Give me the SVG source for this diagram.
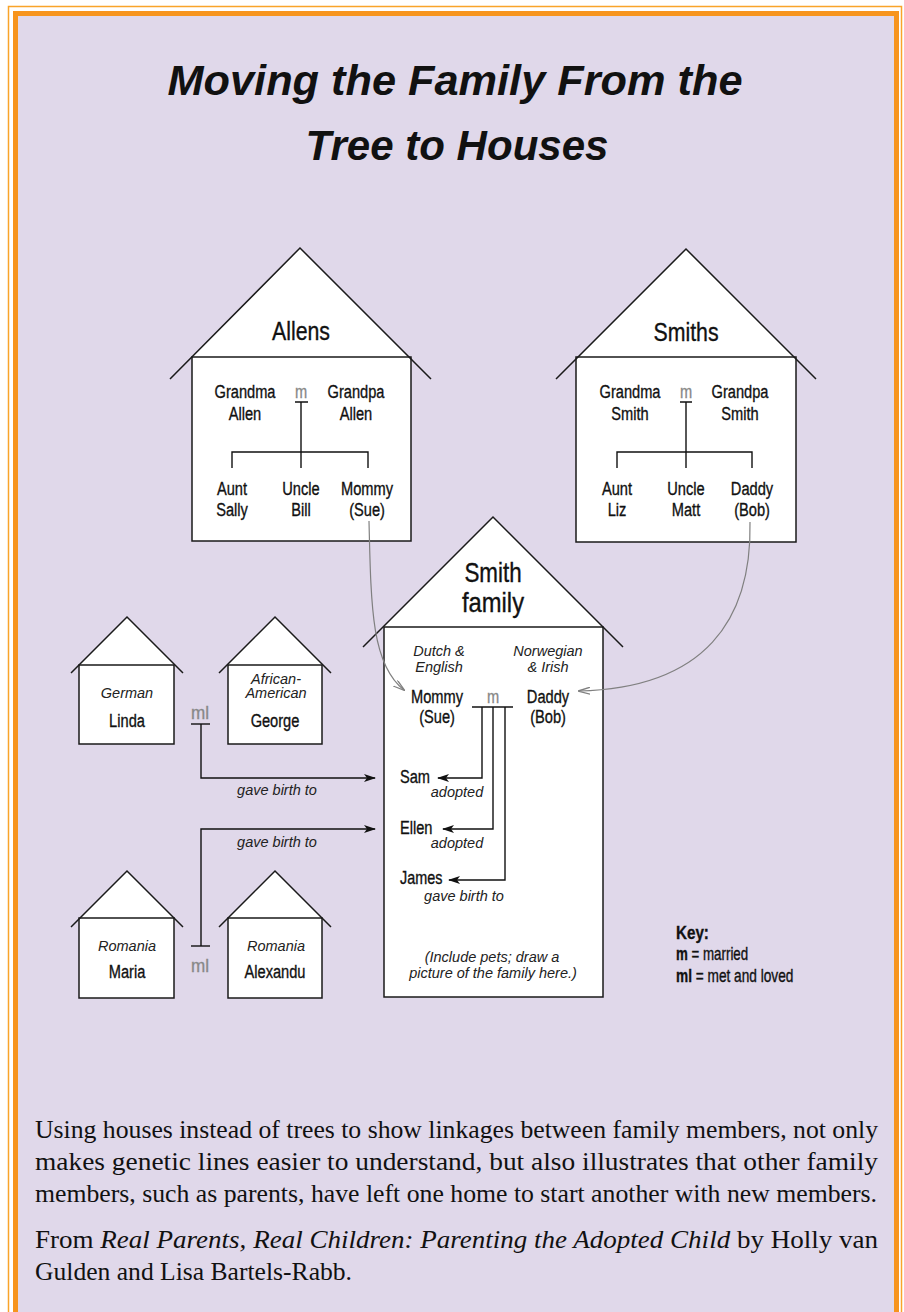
<svg xmlns="http://www.w3.org/2000/svg" width="904" height="1312" viewBox="0 0 904 1312">
<defs>
<style>
.hs{fill:#fff;stroke:#1a1a1a;stroke-width:1.5}
.rf{fill:#fff;stroke:none}
.rl{fill:none;stroke:#1a1a1a;stroke-width:1.5}
.ln{fill:none;stroke:#111;stroke-width:1.4}
.gl{fill:none;stroke:#808080;stroke-width:1.2}
.c{font-family:'Liberation Sans',Arial,sans-serif;fill:#111;stroke:#111;stroke-width:0.35;text-anchor:middle;font-size:19px}
.cl{font-family:'Liberation Sans',Arial,sans-serif;fill:#111;stroke:#111;stroke-width:0.35;font-size:19px}
.gm{fill:#888;stroke:#888}
.it{font-family:'Liberation Sans',Arial,sans-serif;font-style:italic;font-size:14.5px;fill:#222;text-anchor:middle}
.sr{font-family:'Liberation Serif','Times New Roman',serif;font-size:25px;fill:#111}
</style>
<marker id="ab" viewBox="0 0 12 8" refX="11" refY="4" markerWidth="12" markerHeight="8" markerUnits="userSpaceOnUse" orient="auto">
<path d="M0,0 L12,4 L0,8 L3,4 Z" fill="#111"/>
</marker>
<marker id="ag" viewBox="0 0 12 8" refX="11" refY="4" markerWidth="12" markerHeight="8" markerUnits="userSpaceOnUse" orient="auto">
<path d="M0,0.5 L12,4 L0,7.5" fill="none" stroke="#808080" stroke-width="1.3"/>
</marker>
</defs>
<rect x="0" y="0" width="904" height="1312" fill="#fff"/>
<rect x="8.5" y="6.5" width="893" height="1330" fill="none" stroke="#F9A42A" stroke-width="1.5"/>
<rect x="15.5" y="13.5" width="881" height="1330" fill="#E0D8EA" stroke="#F7941D" stroke-width="5"/>
<g id="title">
<text x="455" y="95" text-anchor="middle" textLength="575" lengthAdjust="spacingAndGlyphs" style="font-family:'Liberation Sans',sans-serif;font-weight:bold;font-style:italic;font-size:42px;fill:#111">Moving the Family From the</text>
<text x="457" y="160" text-anchor="middle" textLength="303" lengthAdjust="spacingAndGlyphs" style="font-family:'Liberation Sans',sans-serif;font-weight:bold;font-style:italic;font-size:42px;fill:#111">Tree to Houses</text>
</g>
<g id="allens">
<polygon class="rf" points="300,248 191,357 409,357"/>
<rect class="hs" x="192" y="357" width="219" height="184"/>
<polyline class="rl" points="170,379 300,248 431,379"/>
<text class="c" style="font-size:26px" transform="translate(301,340) scale(.82,1)">Allens</text>
<text class="c" transform="translate(245,398) scale(.77,1)">Grandma</text>
<text class="c" transform="translate(245,420) scale(.77,1)">Allen</text>
<text class="c gm" transform="translate(301,398) scale(.77,1)">m</text>
<text class="c" transform="translate(356,398) scale(.77,1)">Grandpa</text>
<text class="c" transform="translate(356,420) scale(.77,1)">Allen</text>
<path class="ln" d="M295,402 H308 M301,402 V468 M232,468 V452 H368 V468"/>
<text class="c" transform="translate(232,495) scale(.77,1)">Aunt</text>
<text class="c" transform="translate(232,516) scale(.77,1)">Sally</text>
<text class="c" transform="translate(301,495) scale(.77,1)">Uncle</text>
<text class="c" transform="translate(301,516) scale(.77,1)">Bill</text>
<text class="c" transform="translate(367,495) scale(.77,1)">Mommy</text>
<text class="c" transform="translate(367,516) scale(.77,1)">(Sue)</text>
</g>
<g id="smiths">
<polygon class="rf" points="686,249 578,357 794,357"/>
<rect class="hs" x="576" y="357" width="220" height="185"/>
<polyline class="rl" points="556,379 686,249 816,379"/>
<text class="c" style="font-size:26px" transform="translate(686,341) scale(.82,1)">Smiths</text>
<text class="c" transform="translate(630,398) scale(.77,1)">Grandma</text>
<text class="c" transform="translate(630,420) scale(.77,1)">Smith</text>
<text class="c gm" transform="translate(686,398) scale(.77,1)">m</text>
<text class="c" transform="translate(740,398) scale(.77,1)">Grandpa</text>
<text class="c" transform="translate(740,420) scale(.77,1)">Smith</text>
<path class="ln" d="M680,402 H692 M686,402 V468 M617,468 V452 H752 V468"/>
<text class="c" transform="translate(617,495) scale(.77,1)">Aunt</text>
<text class="c" transform="translate(617,516) scale(.77,1)">Liz</text>
<text class="c" transform="translate(686,495) scale(.77,1)">Uncle</text>
<text class="c" transform="translate(686,516) scale(.77,1)">Matt</text>
<text class="c" transform="translate(752,495) scale(.77,1)">Daddy</text>
<text class="c" transform="translate(752,516) scale(.77,1)">(Bob)</text>
</g>
<g id="smith-family">
<polygon class="rf" points="493,517 383,627 603,627"/>
<rect class="hs" x="384" y="627" width="219" height="370"/>
<polyline class="rl" points="363,647 493,517 623,647"/>
<text class="c" style="font-size:27px" transform="translate(493,582) scale(.83,1)">Smith</text>
<text class="c" style="font-size:27px" transform="translate(493,612) scale(.88,1)">family</text>
<text class="it" x="439" y="656">Dutch &amp;</text>
<text class="it" x="439" y="672">English</text>
<text class="it" x="548" y="656">Norwegian</text>
<text class="it" x="548" y="672">&amp; Irish</text>
<text class="c" transform="translate(437,703) scale(.77,1)">Mommy</text>
<text class="c" transform="translate(437,723) scale(.77,1)">(Sue)</text>
<text class="c gm" transform="translate(493,703) scale(.77,1)">m</text>
<text class="c" transform="translate(548,703) scale(.77,1)">Daddy</text>
<text class="c" transform="translate(548,723) scale(.77,1)">(Bob)</text>
<text class="cl" transform="translate(400,783) scale(.77,1)">Sam</text>
<text class="it" x="457" y="797">adopted</text>
<text class="cl" transform="translate(400,834) scale(.77,1)">Ellen</text>
<text class="it" x="457" y="848">adopted</text>
<text class="cl" style="font-size:18px" transform="translate(400,884) scale(.8,1)">James</text>
<text class="it" x="464" y="901">gave birth to</text>
<text class="it" x="492" y="962">(Include pets; draw a</text>
<text class="it" x="493" y="978">picture of the family here.)</text>
</g>
<g id="linda">
<polygon class="rf" points="127,617 79,665 175,665"/>
<rect class="hs" x="79" y="665" width="95" height="79"/>
<polyline class="rl" points="71,673 127,617 183,673"/>
<text class="it" x="127" y="698">German</text>
<text class="c" transform="translate(127,727) scale(.77,1)">Linda</text>
</g>
<g id="george">
<polygon class="rf" points="275,617 227,665 323,665"/>
<rect class="hs" x="228" y="665" width="94" height="79"/>
<polyline class="rl" points="219,673 275,617 331,673"/>
<text class="it" x="276" y="684">African-</text>
<text class="it" x="276" y="698">American</text>
<text class="c" transform="translate(275,727) scale(.77,1)">George</text>
</g>
<g id="maria">
<polygon class="rf" points="127,871 80,918 174,918"/>
<rect class="hs" x="79" y="918" width="95" height="80"/>
<polyline class="rl" points="71,927 127,871 183,927"/>
<text class="it" x="127" y="951">Romania</text>
<text class="c" transform="translate(127,978) scale(.77,1)">Maria</text>
</g>
<g id="alexandu">
<polygon class="rf" points="275,871 228,918 322,918"/>
<rect class="hs" x="228" y="918" width="94" height="80"/>
<polyline class="rl" points="219,927 275,871 331,927"/>
<text class="it" x="276" y="951">Romania</text>
<text class="c" transform="translate(275,978) scale(.77,1)">Alexandu</text>
</g>
<g id="connectors">
<path class="gl" d="M369,521 C371,610 372,665 404,690" marker-end="url(#ag)"/>
<path class="gl" d="M750,522 C752,620 705,688 579,691" marker-end="url(#ag)"/>
<path class="ln" d="M472,707 H513"/>
<path class="ln" d="M482,707 V778 H438" marker-end="url(#ab)"/>
<path class="ln" d="M493,707 V829 H443" marker-end="url(#ab)"/>
<path class="ln" d="M505,707 V880 H449" marker-end="url(#ab)"/>
<text class="c gm" transform="translate(200,719) scale(.9,1)">ml</text>
<path class="ln" d="M191,724 H210"/>
<path class="ln" d="M201,724 V778 H375" marker-end="url(#ab)"/>
<text class="it" x="277" y="795">gave birth to</text>
<text class="c gm" transform="translate(200,972) scale(.9,1)">ml</text>
<path class="ln" d="M191,946 H210"/>
<path class="ln" d="M201,946 V829 H375" marker-end="url(#ab)"/>
<text class="it" x="277" y="847">gave birth to</text>
</g>
<g id="key">
<text class="cl" style="font-weight:bold;font-size:19px" transform="translate(676,939) scale(.8,1)">Key:</text>
<text class="cl" style="font-size:18px" transform="translate(676,960) scale(.74,1)"><tspan style="font-weight:bold">m</tspan> = married</text>
<text class="cl" style="font-size:18px" transform="translate(676,982) scale(.76,1)"><tspan style="font-weight:bold">ml</tspan> = met and loved</text>
</g>
<g id="caption">
<text class="sr" x="35" y="1138" textLength="843" lengthAdjust="spacingAndGlyphs">Using houses instead of trees to show linkages between family members, not only</text>
<text class="sr" x="35" y="1170" textLength="843" lengthAdjust="spacingAndGlyphs">makes genetic lines easier to understand, but also illustrates that other family</text>
<text class="sr" x="35" y="1202" textLength="842" lengthAdjust="spacingAndGlyphs">members, such as parents, have left one home to start another with new members.</text>
<text class="sr" x="35" y="1248" textLength="843" lengthAdjust="spacingAndGlyphs">From <tspan font-style="italic">Real Parents, Real Children: Parenting the Adopted Child</tspan> by Holly van</text>
<text class="sr" x="35" y="1280" textLength="317" lengthAdjust="spacingAndGlyphs">Gulden and Lisa Bartels-Rabb.</text>
</g>
</svg>
